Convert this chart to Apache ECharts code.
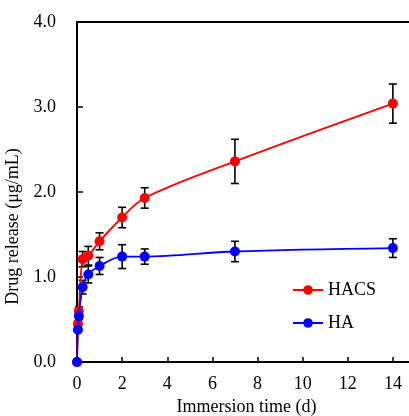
<!DOCTYPE html>
<html>
<head>
<meta charset="utf-8">
<script src="https://cdn.jsdelivr.net/npm/echarts@6/dist/echarts.min.js"></script>
<style>html,body{margin:0;padding:0;background:#fff;}#c{width:409px;height:416px;}</style>
</head>
<body>
<div id="c"></div>
<script>
// Data
var times = [0, 0.042, 0.083, 0.25, 0.5, 1, 2, 3, 7, 14];
var hacsValues = [0, 0.45, 0.60, 1.21, 1.25, 1.42, 1.70, 1.93, 2.36, 3.04];
var hacsErr    = [0, 0.03, 0.05, 0.09, 0.11, 0.10, 0.12, 0.12, 0.26, 0.23];
var haValues   = [0, 0.38, 0.54, 0.88, 1.03, 1.13, 1.24, 1.24, 1.30, 1.34];
var haErr      = [0, 0.03, 0.04, 0.08, 0.10, 0.10, 0.14, 0.09, 0.12, 0.11];
var seriesNames = ['HACS', 'HA'];
var xTicks = [0, 2, 4, 6, 8, 10, 12, 14, 16];
var yTicks = [0, 1, 2, 3, 4];

var FONT = 'Liberation Serif';

function pairs(vals) { return times.map(function (t, i) { return [t, vals[i]]; }); }
function errData(vals, errs) {
  return times.map(function (t, i) { return [t, vals[i] - errs[i], vals[i] + errs[i]]; });
}
function errRender(params, api) {
  var x = api.value(0);
  var lo = api.coord([x, api.value(1)]);
  var hi = api.coord([x, api.value(2)]);
  var cap = 4;
  var st = { stroke: '#000', lineWidth: 1.6 };
  return {
    type: 'group',
    children: [
      { type: 'line', shape: { x1: lo[0], y1: lo[1], x2: hi[0], y2: hi[1] }, style: st },
      { type: 'line', shape: { x1: lo[0] - cap, y1: lo[1], x2: lo[0] + cap, y2: lo[1] }, style: st },
      { type: 'line', shape: { x1: hi[0] - cap, y1: hi[1], x2: hi[0] + cap, y2: hi[1] }, style: st }
    ]
  };
}

var chart = echarts.init(document.getElementById('c'), null, { renderer: 'canvas' });
chart.setOption({
  animation: false,
  backgroundColor: '#fff',
  textStyle: { fontFamily: FONT },
  grid: { left: 77, top: 22, width: 361, height: 340, containLabel: false, outerBoundsMode: 'none',
          show: true, borderColor: '#000', borderWidth: 2, backgroundColor: 'transparent' },
  legend: {
    orient: 'vertical', left: 287, top: 276, itemWidth: 30, itemHeight: 12, itemGap: 15,
    textStyle: { fontFamily: FONT, fontSize: 18, color: '#000' },
    data: seriesNames
  },
  xAxis: {
    type: 'value', min: xTicks[0], max: xTicks[xTicks.length - 1], interval: 2,
    name: 'Immersion time (d)', nameLocation: 'middle', nameGap: 32,
    nameTextStyle: { fontFamily: FONT, fontSize: 18, color: '#000', padding: [0, 22, 0, 0] },
    axisLine: { lineStyle: { color: '#000', width: 2 } },
    axisTick: { inside: true, length: 5, lineStyle: { color: '#000', width: 1.5 } },
    axisLabel: { fontFamily: FONT, fontSize: 18, color: '#000', margin: 13 },
    splitLine: { show: false }
  },
  yAxis: {
    type: 'value', min: yTicks[0], max: yTicks[yTicks.length - 1], interval: 1,
    name: 'Drug release (μg/mL)', nameLocation: 'middle', nameGap: 48,
    nameTextStyle: { fontFamily: FONT, fontSize: 18, color: '#000', padding: [0, 69, 0, 0] },
    axisLine: { lineStyle: { color: '#000', width: 2 } },
    axisTick: { inside: true, length: 6, lineStyle: { color: '#000', width: 1.5 } },
    axisLabel: { fontFamily: FONT, fontSize: 18, color: '#000', margin: 21, formatter: function (v) { return v.toFixed(1); } },
    splitLine: { show: false }
  },
  series: [
    { type: 'custom', name: 'errHACS', renderItem: errRender, data: errData(hacsValues, hacsErr), z: 1, silent: true },
    { type: 'custom', name: 'errHA', renderItem: errRender, data: errData(haValues, haErr), z: 1, silent: true },
    {
      type: 'line', name: seriesNames[0], data: pairs(hacsValues), smooth: 0.35,
      symbol: 'circle', symbolSize: 10, z: 3,
      itemStyle: { color: '#ff0000' }, lineStyle: { color: '#ff0000', width: 1.8 }
    },
    {
      type: 'line', name: seriesNames[1], data: pairs(haValues), smooth: 0.35,
      symbol: 'circle', symbolSize: 10, z: 4,
      itemStyle: { color: '#0000ff' }, lineStyle: { color: '#0000ff', width: 1.8 }
    }
  ]
});
</script>
</body>
</html>
